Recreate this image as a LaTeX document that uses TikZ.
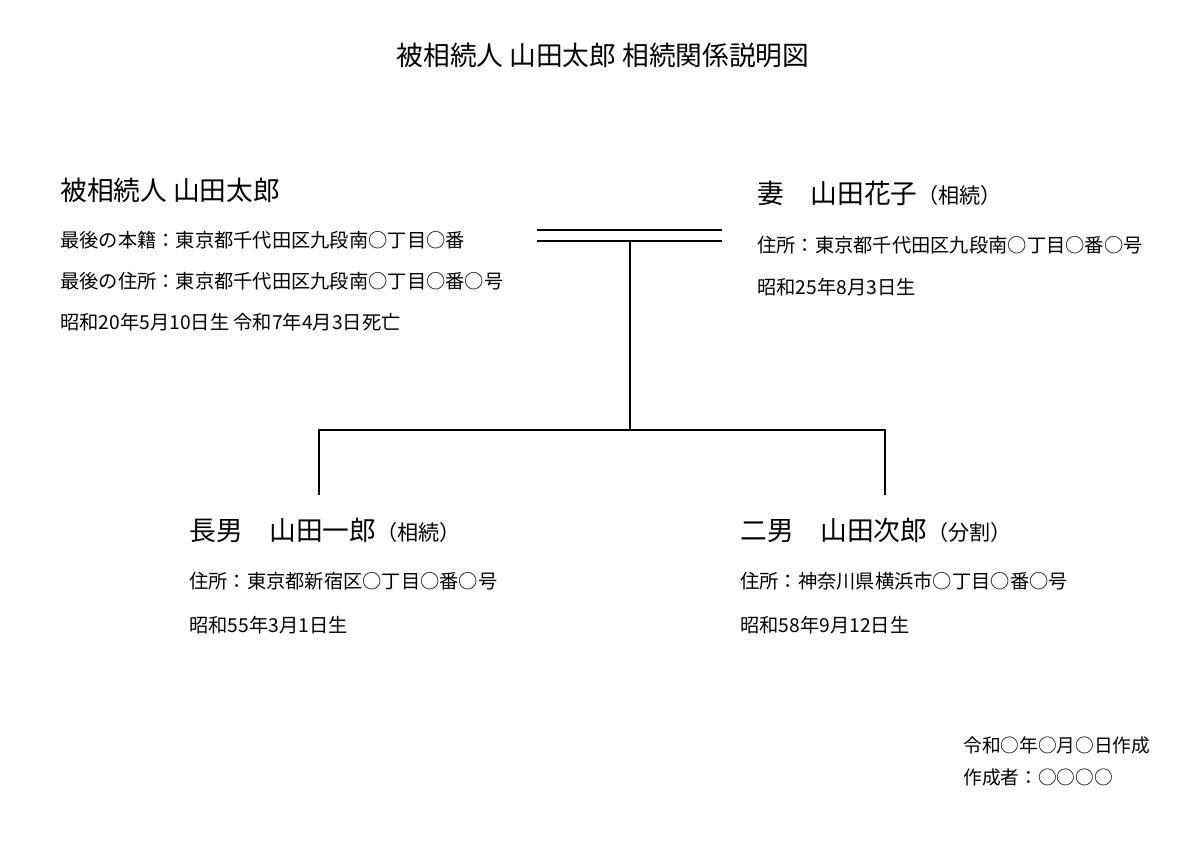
\documentclass[tikz,border=0pt]{standalone}
\usepackage{fontspec}
\setmainfont{Noto Sans CJK JP}
\begin{document}
\begin{tikzpicture}[x=0.025cm,y=-0.025cm,
  ttlbox/.style={anchor=center,inner sep=0pt,font=\fontsize{19}{22}\selectfont},
  headbox/.style={anchor=west,inner sep=0pt,font=\fontsize{19}{22}\selectfont},
  infobox/.style={anchor=west,inner sep=0pt,font=\fontsize{13.7}{16}\selectfont},
  notebox/.style={anchor=west,inner sep=0pt,font=\fontsize{13.3}{16}\selectfont},
  link/.style={draw=black,line width=1pt}]
\newcommand{\tag}[1]{{\fontsize{15}{17}\selectfont（#1）}}
\useasboundingbox[fill=white] (0,0) rectangle (1200,849);
\node[ttlbox] (title) at (603,55) {被相続人 山田太郎 相続関係説明図};
% deceased
\node[headbox] (dead) at (60,190) {被相続人 山田太郎};
\node[infobox] (deadreg) at (60,240) {最後の本籍：東京都千代田区九段南○丁目○番};
\node[infobox] (deadadr) at (60,281) {最後の住所：東京都千代田区九段南○丁目○番○号};
\node[infobox] (deaddate) at (60,322) {昭和20年5月10日生 令和7年4月3日死亡};
% wife
\node[headbox] (wife) at (757,193) {妻　山田花子\tag{相続}};
\node[infobox] (wifeadr) at (757,245) {住所：東京都千代田区九段南○丁目○番○号};
\node[infobox] (wifedate) at (757,287) {昭和25年8月3日生};
% sons
\node[headbox] (son1) at (189,530) {長男　山田一郎\tag{相続}};
\node[infobox] (son1adr) at (189,581) {住所：東京都新宿区○丁目○番○号};
\node[infobox] (son1date) at (189,625) {昭和55年3月1日生};
\node[headbox] (son2) at (740,530) {二男　山田次郎\tag{分割}};
\node[infobox] (son2adr) at (740,581) {住所：神奈川県横浜市○丁目○番○号};
\node[infobox] (son2date) at (740,625) {昭和58年9月12日生};
% footer
\node[notebox] (made) at (963,745) {令和○年○月○日作成};
\node[notebox] (author) at (963,777) {作成者：○○○○};
% lines
\coordinate (mA1) at (537,230);
\coordinate (mB1) at (722,230);
\coordinate (mA2) at (537,241);
\coordinate (mB2) at (722,241);
\coordinate (mid) at (630,241);
\coordinate (fork) at (630,430);
\coordinate (drop1) at (319,495);
\coordinate (drop2) at (885,495);
\draw[link] (mA1) -- (mB1);
\draw[link] (mA2) -- (mB2);
\draw[link] (mid) -- (fork);
\draw[link] (fork) -| (drop1);
\draw[link] (fork) -| (drop2);
\end{tikzpicture}
\end{document}
